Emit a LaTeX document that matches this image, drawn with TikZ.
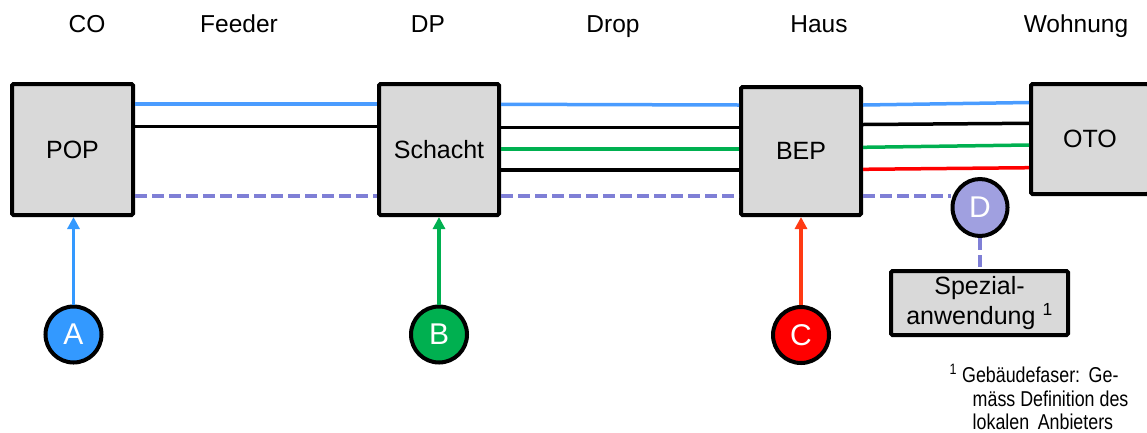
\documentclass[tikz,border=0pt]{standalone}
\usepackage{fontspec}
\setmainfont{Liberation Sans}
\newfontfamily\narrowfont[FakeStretch=0.83]{Liberation Sans}
\usetikzlibrary{arrows.meta,calc,shapes.geometric}
\definecolor{lblue}{HTML}{4A9CFF}
\definecolor{ablue}{HTML}{3399FF}
\definecolor{lgreen}{HTML}{00B050}
\definecolor{lred}{HTML}{FF0000}
\definecolor{corange}{HTML}{FF3A14}
\definecolor{lav}{HTML}{7F7FD6}
\definecolor{lavfill}{HTML}{A0A0E0}
\definecolor{boxgray}{HTML}{D9D9D9}
\begin{document}
\begin{tikzpicture}[x=1pt,y=-1pt,
  box/.style={draw=black, line width=4pt, fill=boxgray, rounded corners=1.5pt, inner sep=0pt, font=\fontsize{25}{30}\selectfont},
  circ/.style={circle, draw=black, line width=4pt, minimum size=56pt, inner sep=0pt, text=white, font=\fontsize{30}{30}\selectfont},
  head/.style={anchor=base, inner sep=0pt, font=\fontsize{24.5}{30}\selectfont},
  wire/.style={line width=3.5pt},
  dashwire/.style={line width=3.5pt, lav, dash pattern=on 12pt off 5pt},
  arr/.style={line width=3.5pt, -{Triangle[width=12pt,length=12pt]}},
  note/.style={anchor=base west, inner sep=0pt, font=\narrowfont\fontsize{21.5}{23}\selectfont}]
\useasboundingbox (0,0) rectangle (1147,432);
\clip (0,0) rectangle (1147,432);

% headers
\node[head] (hco) at (87,32) {CO};
\node[head] (hfeed) at (239,32) {Feeder};
\node[head] (hdp) at (428,32) {DP};
\node[head] (hdrop) at (613,32) {Drop};
\node[head] (hhaus) at (819,32) {Haus};
\node[head] (hwohn) at (1076,32) {Wohnung};

% boxes
\node[box, minimum width=121pt, minimum height=131pt] (pop) at (72.5,149.5) {POP};
\node[box, minimum width=120pt, minimum height=131pt] (schacht) at (439,149.5) {Schacht};
\node[box, minimum width=120pt, minimum height=128pt] (bep) at (801,151) {BEP};
\node[box, minimum width=118pt, minimum height=110pt] (oto) at (1090,139) {OTO};
\node[box, minimum width=177pt, minimum height=64pt, align=center] (spez) at (979.5,303) {Spezial-\\anwendung \textsuperscript{1}};

% circles
\node[circ, fill=ablue] (a) at (73.5,334.5) {A};
\node[circ, fill=lgreen] (b) at (439,334.5) {B};
\node[circ, fill=lred] (c) at (801,335) {C};
\node[circ, fill=lavfill, ellipse, minimum width=55pt, minimum height=57pt] (d) at (980,207.5) {D};

% POP - Schacht
\draw[wire, lblue] (pop.east |- 0,104) -- (schacht.west |- 0,104);
\draw[wire, black] (pop.east |- 0,126.5) -- (schacht.west |- 0,126.5);
\draw[dashwire] (pop.east |- 0,196) -- (schacht.west |- 0,196);

% Schacht - BEP
\draw[wire, lblue] (schacht.east |- 0,104.3) -- (bep.west |- 0,105);
\draw[wire, black] (schacht.east |- 0,127.3) -- (bep.west |- 0,127.3);
\draw[wire, lgreen] (schacht.east |- 0,149) -- (bep.west |- 0,149);
\draw[wire, black] (schacht.east |- 0,170) -- (bep.west |- 0,170);
\draw[dashwire] (schacht.east |- 0,196) -- (bep.west |- 0,196);

% BEP - OTO
\draw[wire, lblue] (bep.east |- 0,105) -- (oto.west |- 0,102.5);
\draw[wire, black] (bep.east |- 0,124.5) -- (oto.west |- 0,123.3);
\draw[wire, lgreen] (bep.east |- 0,147.3) -- (oto.west |- 0,145);
\draw[wire, lred] (bep.east |- 0,169.3) -- (oto.west |- 0,167.7);
\draw[dashwire] (bep.east |- 0,196) -- (d.west |- 0,196);

% D - Spezialanwendung
\draw[dashwire] (d.south) -- (d.south |- spez.north);

% arrows
\draw[arr, ablue] (a.north) -- (a.north |- pop.south);
\draw[arr, lgreen] (b.north) -- (b.north |- schacht.south);
\draw[arr, corange] (c.north) -- (c.north |- bep.south);

% footnote
\node[note] (fn1) at (949.5,382.5) {\textsuperscript{1} Gebäudefaser:\ \,Ge-};
\node[note] (fn2) at (972.5,406) {mäss Definition des};
\node[note] (fn3) at (972.5,429) {lokalen\ \,Anbieters};
\end{tikzpicture}
\end{document}
